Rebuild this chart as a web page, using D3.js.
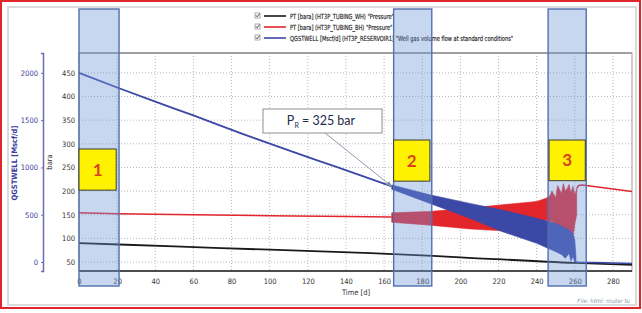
<!DOCTYPE html>
<html>
<head>
<meta charset="utf-8">
<script src="https://cdn.jsdelivr.net/npm/d3@7"></script>
<style>
  body { margin: 0; background: #fff; }
  svg { display: block; }
</style>
</head>
<body>
<div id="chart"></div>
<script>
/* Well test: tubing pressures and gas rate vs time */

// x ticks (days) and y ticks
const dayTicks = [0, 20, 40, 60, 80, 100, 120, 140, 160, 180, 200, 220, 240, 260, 280];
const baraTicks = [50, 100, 150, 200, 250, 300, 350, 400, 450];
const rateTicks = [0, 500, 1000, 1500, 2000];

// PT wellhead (black)
const whDays = [0, 50, 100, 153, 200, 260, 290];
const whBara = [90, 83, 76, 69, 60, 48, 44];

// PT bottomhole (red): steady part, oscillating envelope, after shut-in
const bhDays = [0, 20, 60, 100, 140, 164];
const bhBara = [154, 152, 150, 148, 146, 145];
const bhOscDays = [164, 184, 205, 222, 240, 245, 247, 248, 250, 251, 253, 254, 255, 256, 257, 258, 259, 260, 261];
const bhOscHigh = [154, 157, 164, 171, 178, 185, 190, 200, 186, 212, 195, 216, 200, 205, 214, 196, 210, 192, 205];
const bhOscLow = [134, 128, 120, 116, 132, 139, 128, 138, 120, 112, 125, 96, 118, 82, 104, 70, 100, 130, 150];
const bhLateDays = [261, 262, 264, 290];
const bhLateBara = [205, 212, 213, 199];

// QGSTWELL (blue), Mscf/d
const qDays = [0, 20, 40, 60, 85, 110, 135, 164];
const qRate = [2000, 1845, 1695, 1550, 1360, 1180, 1005, 800];
const qOscDays = [164, 184, 205, 222, 240, 250, 253, 255, 257, 258, 259, 260, 260.6];
const qOscHigh = [815, 710, 620, 550, 462, 406, 380, 360, 340, 320, 300, 230, 60];
const qOscLow = [770, 620, 462, 321, 198, 109, 80, 40, 90, 10, 60, 0, 0];
const qLateDays = [260.6, 262, 275, 290];
const qLateRate = [0, -2, -8, -15];

// highlighted periods and their labels
const periods = [[0, 21], [165, 185], [246, 266]];
const periodBoxes = [[0, 19.5, 202, 289, "1"], [165, 184, 221, 308, "2"], [246.5, 265.5, 222, 308, "3"]];

const legendItems = [
  { label: "PT [bara] (HT3P_TUBING_WH) \"Pressure\"", color: "#1a1a1a" },
  { label: "PT [bara] (HT3P_TUBING_BH) \"Pressure\"", color: "#e3262b" },
  { label: "QGSTWELL [Mscf/d] (HT3P_RESERVOIR1) \"Well gas volume flow at standard conditions\"", color: "#3b48a6" }
];

const W = 642, H = 313;
const plot = { left: 79, right: 632, top: 53, bottom: 271 };
const narrow = "'Liberation Sans Narrow', 'DejaVu Sans Condensed', sans-serif";

const svg = d3.select("#chart").append("svg").attr("width", W).attr("height", H);

const x = d3.scaleLinear().domain([0, 290]).range([plot.left, plot.right]);
const yP = d3.scaleLinear().domain([31, 492]).range([plot.bottom, plot.top]);
const yQ = d3.scaleLinear().domain([-95, 2210]).range([plot.bottom, plot.top]);

// outer frame
svg.append("rect").attr("x", 1).attr("y", 1).attr("width", W - 3).attr("height", 307)
  .attr("fill", "none").attr("stroke", "#e0262a").attr("stroke-width", 2);
svg.append("rect").attr("x", 8).attr("y", 7).attr("width", 628).attr("height", 298)
  .attr("fill", "#fff").attr("stroke", "#cfcfcf").attr("stroke-width", 1.5);

// grid
const grid = svg.append("g").attr("stroke", "#b9b9b9").attr("stroke-dasharray", "1,2").attr("stroke-width", 1);
grid.selectAll(".gx").data(dayTicks.filter(d => d > 0)).join("line")
  .attr("x1", d => x(d)).attr("x2", d => x(d)).attr("y1", plot.top).attr("y2", plot.bottom);
grid.selectAll(".gy").data(baraTicks).join("line")
  .attr("x1", plot.left).attr("x2", plot.right).attr("y1", d => yP(d)).attr("y2", d => yP(d));

// plot frame
svg.append("rect").attr("x", plot.left).attr("y", plot.top)
  .attr("width", plot.right - plot.left).attr("height", plot.bottom - plot.top)
  .attr("fill", "none").attr("stroke", "#9a9a9a").attr("stroke-width", 1);
svg.append("line").attr("x1", plot.left).attr("x2", plot.right).attr("y1", plot.top).attr("y2", plot.top)
  .attr("stroke", "#a0a0a0").attr("stroke-width", 2);
svg.append("line").attr("x1", plot.left).attr("x2", plot.right).attr("y1", plot.bottom).attr("y2", plot.bottom)
  .attr("stroke", "#222").attr("stroke-width", 1.5);

// axes
const xAxis = svg.append("g").attr("transform", `translate(0,${plot.bottom})`)
  .call(d3.axisBottom(x).tickValues(dayTicks).tickSize(0).tickPadding(8));
xAxis.select(".domain").remove();
xAxis.selectAll("text").attr("font-family", narrow).attr("font-size", 7.5).attr("fill", "#333");

const pAxis = svg.append("g").attr("transform", `translate(${plot.left},0)`)
  .call(d3.axisLeft(yP).tickValues(baraTicks).tickSize(0).tickPadding(4));
pAxis.select(".domain").remove();
pAxis.selectAll("text").attr("font-family", narrow).attr("font-size", 7.5).attr("fill", "#333");

const qAxis = svg.append("g").attr("transform", "translate(43,0)")
  .call(d3.axisLeft(yQ).tickValues(rateTicks).tickFormat(d3.format("d")).tickSize(2).tickPadding(3));
qAxis.select(".domain").attr("stroke", "#6d6db4").attr("stroke-width", 1.5);
qAxis.selectAll("line").attr("stroke", "#6d6db4");
qAxis.selectAll("text").attr("font-family", narrow).attr("font-size", 7.5).attr("fill", "#3c3ca0");

svg.append("text").attr("transform", "translate(17,163) rotate(-90)")
  .attr("text-anchor", "middle").attr("font-family", narrow).attr("font-size", 7.5)
  .attr("font-weight", "bold").attr("fill", "#3c3ca0").text("QGSTWELL [Mscf/d]");
svg.append("text").attr("transform", "translate(52,162) rotate(-90)")
  .attr("text-anchor", "middle").attr("font-family", narrow).attr("font-size", 7.5)
  .attr("fill", "#333").text("bara");
svg.append("text").attr("x", 356).attr("y", 295).attr("text-anchor", "middle")
  .attr("font-family", narrow).attr("font-size", 7.5).attr("fill", "#333").text("Time [d]");
svg.append("text").attr("x", 630).attr("y", 303).attr("text-anchor", "end")
  .attr("font-family", narrow).attr("font-size", 6).attr("font-style", "italic")
  .attr("fill", "#8a98ad").text("File: html: router tu");

// series
const zip = (a, b) => a.map((v, i) => [v, b[i]]);
const band = (days, hi, lo) => days.map((d, i) => ({ d, hi: hi[i], lo: lo[i] }));
const lines = svg.append("g").attr("fill", "none").attr("stroke-linejoin", "round");

lines.append("path").datum(zip(whDays, whBara))
  .attr("d", d3.line().x(d => x(d[0])).y(d => yP(d[1])).curve(d3.curveMonotoneX))
  .attr("stroke", legendItems[0].color).attr("stroke-width", 1.8);

const bhArea = d3.area().x(d => x(d.d)).y0(d => yP(d.lo)).y1(d => yP(d.hi));
lines.append("path").datum(band(bhOscDays, bhOscHigh, bhOscLow))
  .attr("d", bhArea).attr("fill", legendItems[1].color).attr("stroke", legendItems[1].color).attr("stroke-width", 0.6);
lines.append("path").datum(zip(bhDays, bhBara))
  .attr("d", d3.line().x(d => x(d[0])).y(d => yP(d[1])))
  .attr("stroke", legendItems[1].color).attr("stroke-width", 1.5);
lines.append("path").datum(zip(bhLateDays, bhLateBara))
  .attr("d", d3.line().x(d => x(d[0])).y(d => yP(d[1])))
  .attr("stroke", legendItems[1].color).attr("stroke-width", 1.5);

const qArea = d3.area().x(d => x(d.d)).y0(d => yQ(d.lo)).y1(d => yQ(d.hi));
lines.append("path").datum(band(qOscDays, qOscHigh, qOscLow))
  .attr("d", qArea).attr("fill", legendItems[2].color).attr("stroke", legendItems[2].color).attr("stroke-width", 0.6);
lines.append("path").datum(zip(qDays, qRate))
  .attr("d", d3.line().x(d => x(d[0])).y(d => yQ(d[1])).curve(d3.curveMonotoneX))
  .attr("stroke", legendItems[2].color).attr("stroke-width", 1.8);
lines.append("path").datum(zip(qLateDays, qLateRate))
  .attr("d", d3.line().x(d => x(d[0])).y(d => yQ(d[1])))
  .attr("stroke", legendItems[2].color).attr("stroke-width", 1.5);

// legend
const legend = svg.append("g").attr("transform", "translate(255,16)");
legendItems.forEach((item, i) => {
  const g = legend.append("g").attr("transform", `translate(0,${i * 11})`);
  g.append("rect").attr("x", 0).attr("y", -3).attr("width", 5).attr("height", 5)
    .attr("fill", "#fff").attr("stroke", "#777").attr("stroke-width", 0.6);
  g.append("path").attr("d", "M0.8,-0.8 L2.2,0.8 L4.6,-2.4").attr("fill", "none")
    .attr("stroke", "#222").attr("stroke-width", 0.8);
  g.append("line").attr("x1", 9).attr("x2", 31).attr("y1", 0).attr("y2", 0)
    .attr("stroke", item.color).attr("stroke-width", 1.6);
  const t = g.append("text").attr("x", 35).attr("y", 2.5).attr("font-family", narrow)
    .attr("font-size", 7).attr("fill", "#1a1a1a").attr("stroke", "#1a1a1a").attr("stroke-width", 0.15)
    .text(item.label);
  const len = t.node().getComputedTextLength();
  t.attr("textLength", len * 0.81).attr("lengthAdjust", "spacingAndGlyphs");
});

// highlighted periods (translucent, drawn on top)
svg.selectAll(".period").data(periods).join("rect")
  .attr("x", d => x(d[0])).attr("y", 9)
  .attr("width", d => x(d[1]) - x(d[0])).attr("height", 277)
  .attr("fill", "rgba(110,150,215,0.38)").attr("stroke", "#5170ad").attr("stroke-width", 1.4);

// numbered boxes
const boxes = svg.selectAll(".pbox").data(periodBoxes).join("g");
boxes.append("rect")
  .attr("x", d => x(d[0])).attr("y", d => yP(d[3]))
  .attr("width", d => x(d[1]) - x(d[0])).attr("height", d => yP(d[2]) - yP(d[3]))
  .attr("fill", "#fff200").attr("stroke", "#3a3a3a").attr("stroke-width", 1);
boxes.append("text")
  .attr("x", d => (x(d[0]) + x(d[1])) / 2).attr("y", d => (yP(d[2]) + yP(d[3])) / 2 + 6)
  .attr("text-anchor", "middle").attr("font-family", "Lato, 'Open Sans', sans-serif")
  .attr("font-size", 17).attr("font-weight", "bold").attr("fill", "#d9441c").text(d => d[4]);

// reservoir pressure callout
const callout = svg.append("g");
const defs = svg.append("defs");
defs.append("marker").attr("id", "arrow").attr("viewBox", "0 0 10 10").attr("refX", 9).attr("refY", 5)
  .attr("markerWidth", 6).attr("markerHeight", 6).attr("orient", "auto")
  .append("path").attr("d", "M0,1 L10,5 L0,9 z").attr("fill", "#7f91aa");
callout.append("line").attr("x1", 325).attr("y1", 133).attr("x2", x(164)).attr("y2", yQ(800))
  .attr("stroke", "#8c9bb2").attr("stroke-width", 1).attr("marker-end", "url(#arrow)");
callout.append("rect").attr("x", 263).attr("y", 109).attr("width", 119).attr("height", 24)
  .attr("fill", "#fff").attr("stroke", "#8f8f8f").attr("stroke-width", 1);
const ct = callout.append("text").attr("x", 321).attr("y", 125).attr("text-anchor", "middle")
  .attr("font-family", "Lato, 'Open Sans', sans-serif").attr("font-size", 12.5).attr("fill", "#1f2c4a");
ct.append("tspan").text("P");
ct.append("tspan").attr("font-size", 7).attr("dy", 3).text("R");
ct.append("tspan").attr("dy", -3).text(" = 325 bar");
</script>
</body>
</html>
